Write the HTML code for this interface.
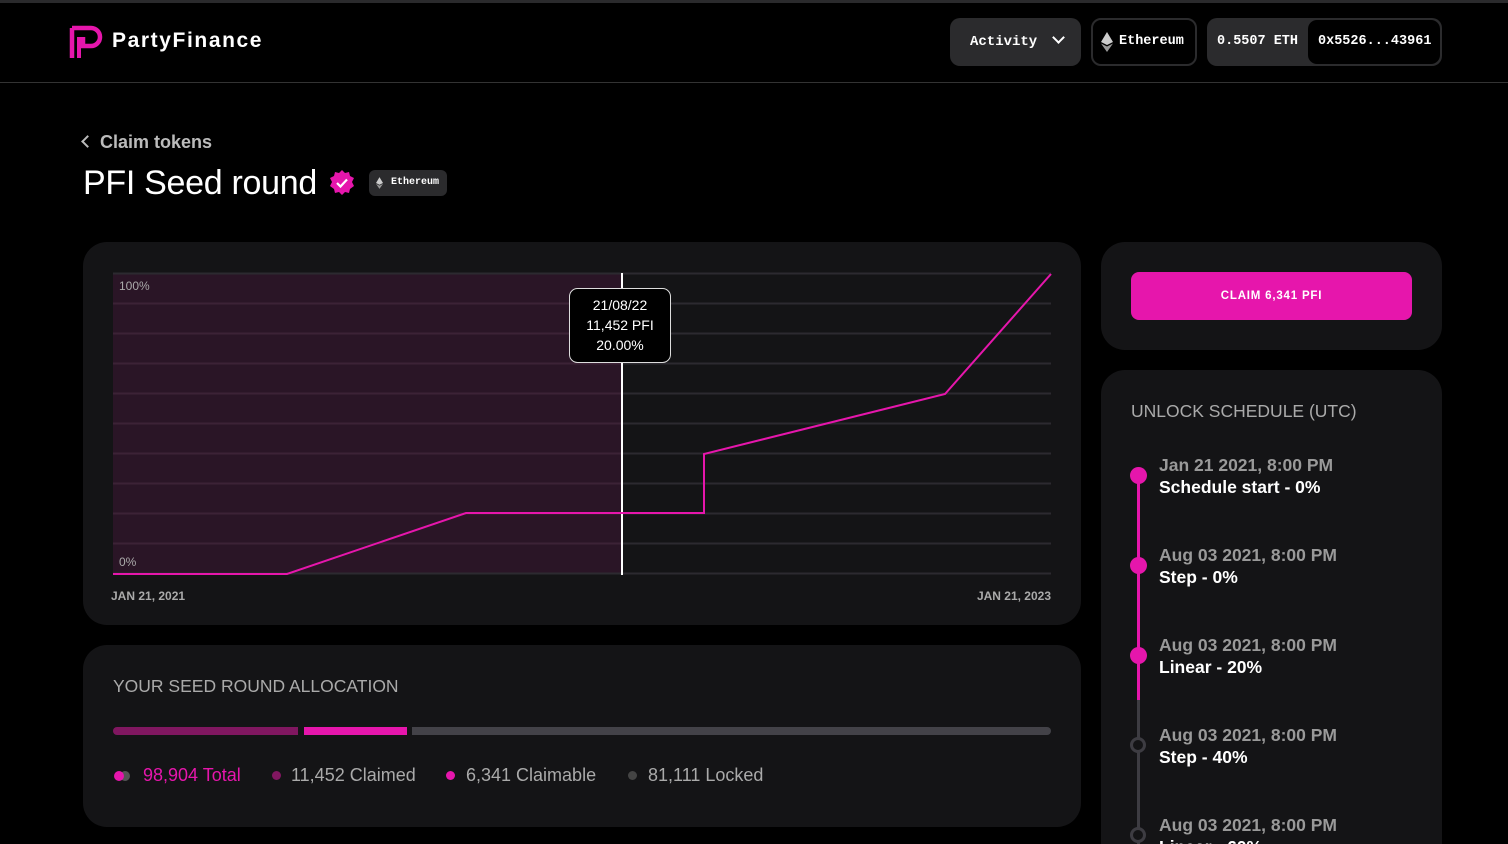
<!DOCTYPE html>
<html><head><meta charset="utf-8"><style>
*{margin:0;padding:0;box-sizing:border-box}
html,body{width:1508px;height:844px;overflow:hidden}
body{background:#000;position:relative;font-family:"Liberation Sans",sans-serif;color:#fff}
.a{position:absolute}
.mono{font-family:"Liberation Mono",monospace}
.card{position:absolute;background:#141416;border-radius:24px}
</style></head><body>
<div class="a" style="left:0;top:0;width:1508px;height:3px;background:#2a2a2c"></div>
<div class="a" style="left:0;top:82px;width:1508px;height:1px;background:#333"></div>
<svg class="a" style="left:69px;top:25px" width="34" height="34" viewBox="0 0 34 34"><path d="M3 3 H22 A9 9 0 0 1 22 21 H14 V12" fill="none" stroke="#e616ac" stroke-width="4.5"/><path d="M3 3 V33" stroke="#e616ac" stroke-width="4.5"/><path d="M10 12 V33" stroke="#e616ac" stroke-width="4"/></svg>
<div class="a" style="left:112px;top:29px;font-size:21px;font-weight:bold;letter-spacing:1.6px">PartyFinance</div>

<div class="a mono" style="left:950px;top:18px;width:131px;height:48px;background:#2b2b2d;border-radius:10px;font-size:14px;font-weight:bold;line-height:48px;padding-left:20px">Activity <span style="display:inline-block;width:9px;height:9px;border-right:2px solid #fff;border-bottom:2px solid #fff;transform:rotate(45deg);margin-left:8px;position:relative;top:-3px"></span></div>
<div class="a mono" style="left:1091px;top:18px;width:106px;height:48px;border:2px solid #2b2b2d;border-radius:10px;font-size:13.5px;font-weight:bold;line-height:44px;padding-left:26px">Ethereum</div>
<svg class="a" style="left:1101px;top:32px" width="12" height="20" viewBox="0 0 12 20"><path d="M6 0 L12 10 L6 13 L0 10Z" fill="#ccc"/><path d="M6 14.5 L12 11.5 L6 20 L0 11.5Z" fill="#999"/></svg>
<div class="a mono" style="left:1207px;top:18px;width:235px;height:48px;background:#2b2b2d;border-radius:10px;font-size:13.5px;font-weight:bold;line-height:48px;padding-left:10px">0.5507 ETH</div>
<div class="a mono" style="left:1308px;top:20px;width:132px;height:44px;background:#000;border-radius:9px;font-size:13.5px;font-weight:bold;line-height:44px;padding-left:10px">0x5526...43961</div>

<div class="a" style="left:83px;top:132px;font-size:18px;color:#bbb;font-weight:bold"><span style="display:inline-block;width:9px;height:9px;border-left:2.5px solid #bbb;border-bottom:2.5px solid #bbb;transform:rotate(45deg);margin-right:8px;position:relative;top:-2px"></span>Claim tokens</div>
<div class="a" style="left:83px;top:164px;font-size:34px;letter-spacing:-0.3px">PFI Seed round</div>
<svg class="a" style="left:329px;top:170px" width="26" height="26" viewBox="0 0 26 26"><polygon points="13,0 16,3 20,2 21,6 25,8 23,12 25,16 21,19 20,23 16,22 13,25 10,22 6,23 5,19 1,16 3,12 1,8 5,6 6,2 10,3" fill="#e616ac"/><path d="M8 13 L11.5 16.5 L18 9.5" fill="none" stroke="#fff" stroke-width="2.2"/></svg>
<div class="a mono" style="left:369px;top:170px;width:78px;height:26px;background:#2b2b2d;border-radius:6px;font-size:10px;font-weight:bold;line-height:26px;padding-left:22px">Ethereum</div>
<svg class="a" style="left:376px;top:177px" width="7" height="12" viewBox="0 0 12 20"><path d="M6 0 L12 10 L6 13 L0 10Z" fill="#ccc"/><path d="M6 14.5 L12 11.5 L6 20 L0 11.5Z" fill="#999"/></svg>

<div class="card" style="left:83px;top:242px;width:998px;height:383px"></div>
<svg class="a" style="left:0;top:0" width="1508" height="844">
<rect x="113" y="273" width="509" height="301" fill="#2a1526"/>
<g stroke="#2c2a30" stroke-width="2">
<line x1="113" y1="273.5" x2="1051" y2="273.5"/><line x1="113" y1="303.5" x2="1051" y2="303.5"/><line x1="113" y1="333.5" x2="1051" y2="333.5"/><line x1="113" y1="363.5" x2="1051" y2="363.5"/><line x1="113" y1="393.5" x2="1051" y2="393.5"/><line x1="113" y1="423.5" x2="1051" y2="423.5"/><line x1="113" y1="453.5" x2="1051" y2="453.5"/><line x1="113" y1="483.5" x2="1051" y2="483.5"/><line x1="113" y1="513.5" x2="1051" y2="513.5"/><line x1="113" y1="543.5" x2="1051" y2="543.5"/><line x1="113" y1="573.5" x2="1051" y2="573.5"/>
</g>
<g stroke="#3c2236" stroke-width="2">
<line x1="113" y1="303.5" x2="622" y2="303.5"/><line x1="113" y1="333.5" x2="622" y2="333.5"/><line x1="113" y1="363.5" x2="622" y2="363.5"/><line x1="113" y1="393.5" x2="622" y2="393.5"/><line x1="113" y1="423.5" x2="622" y2="423.5"/><line x1="113" y1="453.5" x2="622" y2="453.5"/><line x1="113" y1="483.5" x2="622" y2="483.5"/><line x1="113" y1="513.5" x2="622" y2="513.5"/><line x1="113" y1="543.5" x2="622" y2="543.5"/>
</g>
<line x1="622" y1="273" x2="622" y2="575" stroke="#fff" stroke-width="2"/>
<polyline points="113,574 287,574 466,513 704,513 704,454 945,394 1051,274" fill="none" stroke="#e616ac" stroke-width="2"/>
<text x="119" y="290" font-size="12" fill="#aaa" font-family="Liberation Sans">100%</text>
<text x="119" y="566" font-size="12" fill="#aaa" font-family="Liberation Sans">0%</text>
<text x="111" y="600" font-size="12" fill="#aaa" font-weight="bold" font-family="Liberation Sans">JAN 21, 2021</text>
<text x="1051" y="600" font-size="12" fill="#aaa" font-weight="bold" text-anchor="end" font-family="Liberation Sans">JAN 21, 2023</text>
<rect x="569.5" y="288.5" width="101" height="74" rx="8" fill="#000" stroke="#ddd"/>
<g font-size="14" fill="#fff" text-anchor="middle" font-family="Liberation Sans"><text x="620" y="310">21/08/22</text><text x="620" y="330">11,452 PFI</text><text x="620" y="350">20.00%</text></g>
</svg>

<div class="card" style="left:83px;top:645px;width:998px;height:182px"></div>
<div class="a" style="left:113px;top:676px;font-size:17.5px;color:#aaa">YOUR SEED ROUND ALLOCATION</div>
<div class="a" style="left:113px;top:727px;width:185px;height:8px;background:#801760;border-radius:4px 0 0 4px"></div>
<div class="a" style="left:304px;top:727px;width:103px;height:8px;background:#e616ac"></div>
<div class="a" style="left:412px;top:727px;width:639px;height:8px;background:#434248;border-radius:0 4px 4px 0"></div>
<div class="a" style="left:120px;top:771px;width:10px;height:10px;border-radius:50%;background:#555"></div>
<div class="a" style="left:114px;top:771px;width:10px;height:10px;border-radius:50%;background:#e616ac"></div>
<div class="a" style="left:143px;top:765px;font-size:18px;color:#e616ac">98,904 Total</div>
<div class="a" style="left:272px;top:771px;width:9px;height:9px;border-radius:50%;background:#801760"></div>
<div class="a" style="left:291px;top:765px;font-size:18px;color:#aaa">11,452 Claimed</div>
<div class="a" style="left:446px;top:771px;width:9px;height:9px;border-radius:50%;background:#e616ac"></div>
<div class="a" style="left:466px;top:765px;font-size:18px;color:#aaa">6,341 Claimable</div>
<div class="a" style="left:628px;top:771px;width:9px;height:9px;border-radius:50%;background:#444"></div>
<div class="a" style="left:648px;top:765px;font-size:18px;color:#aaa">81,111 Locked</div>

<div class="card" style="left:1101px;top:242px;width:341px;height:108px"></div>
<div class="a" style="left:1131px;top:272px;width:281px;height:48px;background:#e616ac;border-radius:8px;font-size:11.5px;font-weight:bold;letter-spacing:0.8px;text-align:center;line-height:48px">CLAIM 6,341 PFI</div>

<div class="card" style="left:1101px;top:370px;width:341px;height:500px"></div>
<div class="a" style="left:1131px;top:401px;font-size:17.5px;color:#aaa">UNLOCK SCHEDULE (UTC)</div>
<div class="a" style="left:1137px;top:480px;width:3px;height:220px;background:#e616ac"></div>
<div class="a" style="left:1137px;top:700px;width:3px;height:144px;background:#3d3c42"></div>
<div class="a" style="left:1130px;top:467px;width:17px;height:17px;border-radius:50%;background:#e616ac"></div>
<div class="a" style="left:1130px;top:557px;width:17px;height:17px;border-radius:50%;background:#e616ac"></div>
<div class="a" style="left:1130px;top:647px;width:17px;height:17px;border-radius:50%;background:#e616ac"></div>
<div class="a" style="left:1130px;top:737px;width:16px;height:16px;border-radius:50%;background:#141416;border:3px solid #3d3c42"></div>
<div class="a" style="left:1130px;top:827px;width:16px;height:16px;border-radius:50%;background:#141416;border:3px solid #3d3c42"></div>
<div class="a" style="left:1159px;top:454px;font-size:17.5px;line-height:22px;font-weight:bold"><div style="color:#999">Jan 21 2021, 8:00 PM</div><div>Schedule start - 0%</div></div>
<div class="a" style="left:1159px;top:544px;font-size:17.5px;line-height:22px;font-weight:bold"><div style="color:#999">Aug 03 2021, 8:00 PM</div><div>Step - 0%</div></div>
<div class="a" style="left:1159px;top:634px;font-size:17.5px;line-height:22px;font-weight:bold"><div style="color:#999">Aug 03 2021, 8:00 PM</div><div>Linear - 20%</div></div>
<div class="a" style="left:1159px;top:724px;font-size:17.5px;line-height:22px;font-weight:bold"><div style="color:#999">Aug 03 2021, 8:00 PM</div><div>Step - 40%</div></div>
<div class="a" style="left:1159px;top:814px;font-size:17.5px;line-height:22px;font-weight:bold"><div style="color:#999">Aug 03 2021, 8:00 PM</div><div>Linear - 60%</div></div>
</body></html>
